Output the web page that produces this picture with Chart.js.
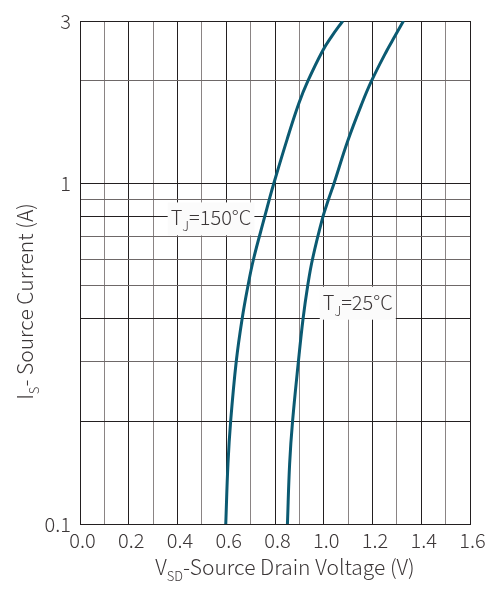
<!DOCTYPE html>
<html>
<head>
<meta charset="utf-8">
<script src="https://cdn.jsdelivr.net/npm/chart.js@4.4.1/dist/chart.umd.min.js"></script>
<style>
  html, body { margin: 0; padding: 0; background: #fff; }
</style>
</head>
<body>
<canvas id="grafico" width="496" height="590"></canvas>
<script>
// dados (I em A, V em V)
var corrente150 = [0.1, 0.15, 0.2, 0.3, 0.4, 0.5, 0.6, 0.8, 0.9, 1.0, 1.35, 1.72, 2.0, 2.45, 2.7, 3.0];
var tensao150   = [0.598, 0.607, 0.618, 0.641, 0.665, 0.689, 0.712, 0.758, 0.777, 0.795, 0.850, 0.898, 0.935, 0.995, 1.032, 1.078];

var corrente25 = [0.1, 0.15, 0.2, 0.3, 0.4, 0.5, 0.6, 0.8, 0.9, 1.0, 1.33, 1.72, 2.0, 2.45, 2.7, 3.0];
var tensao25   = [0.851, 0.860, 0.872, 0.896, 0.915, 0.934, 0.954, 0.997, 1.020, 1.042, 1.098, 1.157, 1.196, 1.258, 1.291, 1.327];

var ticksY = [0.1, 0.2, 0.3, 0.4, 0.5, 0.6, 0.7, 0.8, 0.9, 1, 2, 3];
var labelsY = [0.1, 1, 3];

var escuro = '#231f20';
var cinza = '#8a8484';
var corTexto = '#3c3738';
var corCurva = '#0b5a72';
var fonte = '"Noto Sans CJK SC", "Noto Sans", sans-serif';

function pontos(vs, is) {
    return vs.map(function (v, i) { return { x: v, y: is[i] }; });
}

function fontePara(sub, grande) {
    return '300 ' + (sub ? 13 : grande) + 'px ' + fonte;
}

// desenha texto com partes em subscrito
function textoRico(ctx, partes, x, y, centro, grande) {
    var largura = 0;
    partes.forEach(function (p) {
        ctx.font = fontePara(p[1], grande);
        largura += ctx.measureText(p[0]).width;
    });
    var cx = centro ? x - largura / 2 : x;
    partes.forEach(function (p) {
        ctx.font = fontePara(p[1], grande);
        ctx.fillText(p[0], cx, p[1] ? y + 6 : y);
        cx += ctx.measureText(p[0]).width;
    });
    return largura;
}

var rotulos = [
    { v: 0.372, i: 0.753, partes: [['T', false], ['J', true], ['=150°C', false]] },
    { v: 0.996, i: 0.426, partes: [['T', false], ['J', true], ['=25°C', false]] }
];

var pluginTextos = {
    id: 'textos',
    afterDraw: function (chart) {
        var ctx = chart.ctx;
        var sx = chart.scales.x, sy = chart.scales.y;
        ctx.save();
        ctx.textBaseline = 'alphabetic';
        ctx.textAlign = 'left';

        rotulos.forEach(function (r) {
            var px = sx.getPixelForValue(r.v);
            var py = sy.getPixelForValue(r.i);
            var w = 0;
            r.partes.forEach(function (p) {
                ctx.font = fontePara(p[1], 20);
                w += ctx.measureText(p[0]).width;
            });
            ctx.fillStyle = '#fbfbfb';
            ctx.fillRect(px - 3, py - 23, w + 6, 33);
            ctx.fillStyle = corTexto;
            textoRico(ctx, r.partes, px, py, false, 20);
        });

        // título do eixo x
        ctx.fillStyle = corTexto;
        var cxArea = (chart.chartArea.left + chart.chartArea.right) / 2;
        textoRico(ctx, [['V', false], ['SD', true], ['-Source Drain Voltage (V)', false]], cxArea + 10, 575, true, 21);

        // título do eixo y
        ctx.translate(33, (chart.chartArea.top + chart.chartArea.bottom) / 2 + 29);
        ctx.rotate(-Math.PI / 2);
        textoRico(ctx, [['I', false], ['S', true], ['- Source Current (A)', false]], 0, 0, true, 21);
        ctx.restore();
    }
};

new Chart(document.getElementById('grafico'), {
    type: 'line',
    data: {
        datasets: [{
            label: 'TJ=150°C',
            data: pontos(tensao150, corrente150),
            borderColor: corCurva,
            borderWidth: 3,
            pointRadius: 0,
            tension: 0.4
        }, {
            label: 'TJ=25°C',
            data: pontos(tensao25, corrente25),
            borderColor: corCurva,
            borderWidth: 3,
            pointRadius: 0,
            tension: 0.4
        }]
    },
    options: {
        responsive: false,
        animation: false,
        layout: { padding: { top: 17, right: 26, left: 0, bottom: 0 } },
        plugins: { legend: { display: false }, tooltip: { enabled: false } },
        scales: {
            x: {
                type: 'linear',
                min: 0,
                max: 1.6,
                afterFit: function (s) { s.height = 66; },
                grid: {
                    drawTicks: false,
                    color: function (c) {
                        return Math.round(c.tick.value * 10) % 2 === 0 ? escuro : cinza;
                    }
                },
                border: { color: escuro, width: 1 },
                ticks: {
                    stepSize: 0.1,
                    padding: 4,
                    labelOffset: 2.5,
                    maxRotation: 0,
                    autoSkip: false,
                    color: corTexto,
                    font: { family: fonte, size: 20, weight: '300' },
                    callback: function (v) {
                        var n = Math.round(v * 10);
                        return n % 2 === 0 ? (n / 10).toFixed(1) : '';
                    }
                }
            },
            y: {
                type: 'logarithmic',
                min: 0.1,
                max: 3,
                afterFit: function (s) { s.width = 80; },
                afterBuildTicks: function (s) {
                    s.ticks = ticksY.map(function (v) { return { value: v }; });
                },
                grid: {
                    drawTicks: false,
                    color: function (c) {
                        var v = c.tick.value;
                        return (v === 0.1 || v === 3 || v === 1 || v === 0.2 || v === 0.4 || v === 0.8) ? escuro : '#6e6868';
                    }
                },
                border: { color: escuro, width: 1 },
                ticks: {
                    padding: 9,
                    autoSkip: false,
                    color: corTexto,
                    font: { family: fonte, size: 20, weight: '300' },
                    callback: function (v) {
                        return labelsY.indexOf(v) >= 0 ? String(v) : '';
                    }
                }
            }
        }
    },
    plugins: [pluginTextos]
});
</script>
</body>
</html>
